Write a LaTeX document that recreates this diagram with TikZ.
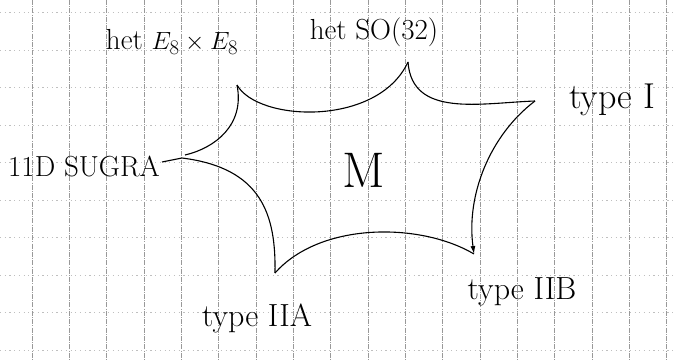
\documentclass[tikz,border=0pt]{standalone}
\usetikzlibrary{arrows.meta}
\begin{document}
\begin{tikzpicture}[x=1pt,y=-1pt,
  vgrid/.style={gray!80,line width=0.7pt,dash pattern=on 5pt off 1.2pt on 1pt off 1.2pt},
  hgrid/.style={gray!50,line width=0.6pt,dash pattern=on 1.2pt off 3.5pt},
  edge/.style={black,line width=1.1pt},
  lbl/.style={font=\fontsize{29}{31}\selectfont,inner sep=0pt}]
\useasboundingbox[fill=white] (0,0) rectangle (676,361);
% grid
\foreach \k in {0,...,17} {\draw[vgrid] ({32+37.33*\k},0) -- ({32+37.33*\k},361);}
\foreach \k in {0,...,9} {\draw[hgrid] (0,{12.5+37.5*\k}) -- (676,{12.5+37.5*\k});}
% vertices
\coordinate (A) at (237,85);
\coordinate (B) at (408,62);
\coordinate (C) at (535,101);
\coordinate (D) at (474,254);
\coordinate (E) at (275,273);
\coordinate (F) at (185,155);
\coordinate (G) at (162,162);
% star sides
\draw[edge] (A) .. controls (258,122) and (378,127) .. (B);
\draw[edge] (B) .. controls (412,118) and (480,103) .. (C);
\draw[edge,-{Latex[length=8pt,width=5pt]}] (C) .. controls (490,135) and (466,195) .. (D);
\draw[edge] (D) .. controls (420,222) and (320,222) .. (E);
\draw[edge] (E) .. controls (276,215) and (262,168) .. (182,158) -- (G);
\draw[edge] (F) .. controls (215,148) and (245,125) .. (A);
% labels
\node[lbl] (e8) at (172,42) {het $E_8\times E_8$};
\node[lbl] (so) at (374,32) {het SO(32)};
\node[lbl,font=\fontsize{36}{38}\selectfont] (t1) at (612,100) {type I};
\node[lbl] (sugra) at (84,166) {11D SUGRA};
\node[font=\fontsize{50}{52}\selectfont,inner sep=0pt] (m) at (364,170) {M};
\node[lbl,font=\fontsize{32}{34}\selectfont] (t2a) at (257,318) {type IIA};
\node[lbl,font=\fontsize{32}{34}\selectfont] (t2b) at (522,292) {type IIB};
\end{tikzpicture}
\end{document}
